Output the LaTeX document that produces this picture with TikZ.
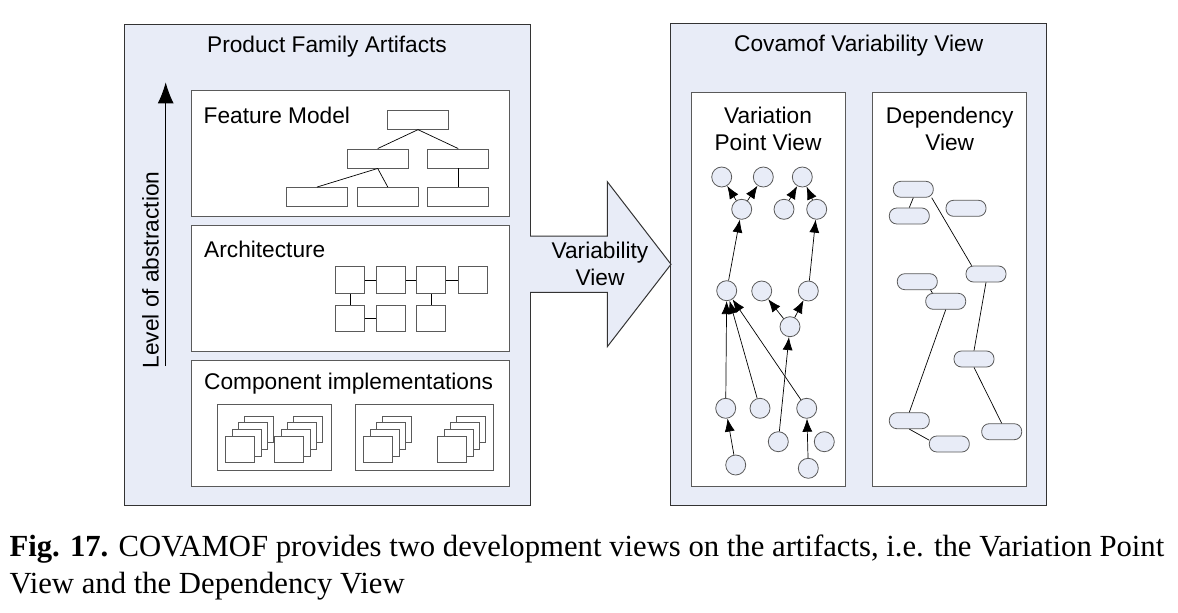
\documentclass[tikz,border=0pt]{standalone}
\usepackage{fontspec}
\setmainfont{Liberation Serif}
\setsansfont{Liberation Sans}
\usetikzlibrary{arrows.meta}
\definecolor{paneblue}{HTML}{E8ECF7}
\definecolor{edgegray}{HTML}{5A5A5A}
\tikzset{
  pane/.style={draw=black!80, fill=paneblue, line width=1pt},
  sheet/.style={draw=edgegray, fill=white, line width=1pt},
  lbl/.style={font=\sffamily\fontsize{22.7}{27}\selectfont, inner sep=0pt},
  feat/.style={draw=edgegray, fill=white, line width=0.9pt, minimum width=61pt, minimum height=19pt, inner sep=0pt},
  comp/.style={draw=edgegray, fill=white, line width=0.9pt, minimum width=29pt, minimum height=26.7pt, inner sep=0pt},
  vp/.style={circle, draw=edgegray, fill=paneblue, line width=0.8pt, minimum size=20pt, inner sep=0pt},
  dep/.style={rectangle, rounded corners=7.5pt, draw=edgegray, fill=paneblue, line width=0.8pt, minimum width=40pt, minimum height=16pt, inner sep=0pt},
  link/.style={line width=0.7pt},
  vparrow/.style={line width=0.7pt, -{Latex[length=13pt,width=10pt]}},
  captext/.style={font=\fontsize{30.7}{37}\selectfont, anchor=base west, inner sep=0pt}
}
\begin{document}
\begin{tikzpicture}[x=1pt,y=-1pt]
\useasboundingbox (0,0) rectangle (1178,613);

% product family side
\draw[pane] (124,24) rectangle (530,505);
\node[lbl] (pfa) at (327,46.5) {Product Family Artifacts};

\coordinate (lowend) at (165.7,366);
\coordinate (highend) at (165.7,82.3);
\draw[line width=1pt, -{Latex[length=21pt,width=16pt]}] (lowend) -- (highend);
\node[lbl, rotate=90] (lvl) at (150.5,270) {Level of abstraction};

% feature model
\draw[sheet] (191.7,90.7) rectangle (509.3,216.5);
\node[lbl, anchor=west] (fmlbl) at (203.5,115) {Feature Model};
\node[feat] (f1) at (418,119.7) {};
\node[feat] (f2) at (377.7,158.5) {};
\node[feat] (f3) at (458.2,158.5) {};
\node[feat] (f4) at (317,197) {};
\node[feat] (f5) at (387.8,197) {};
\node[feat] (f6) at (458.2,197) {};

\path [link] (f1.south) edge (f2.north);
\path [link] (f1.south) edge (f3.north);
\path [link] (f2.south) edge (f4.north);
\path [link] (f2.south) edge (f5.north);
\path [link] (f3.south) edge (f6.north);

% architecture
\draw[sheet] (191.7,225.7) rectangle (509.3,351);
\node[lbl, anchor=west] (arlbl) at (204,249.3) {Architecture};
\node[comp] (r1) at (350,280) {};
\node[comp] (r2) at (390.7,280) {};
\node[comp] (r3) at (431.2,280) {};
\node[comp] (r4) at (472.7,280) {};
\node[comp] (s1) at (350,318.3) {};
\node[comp] (s2) at (390.7,318.3) {};
\node[comp] (s3) at (431.2,318.3) {};

\path [link] (r1) edge (r2);
\path [link] (r2) edge (r3);
\path [link] (r3) edge (r4);
\path [link] (r1) edge (s1);
\path [link] (s1) edge (s2);
\path [link] (r3) edge (s3);

% component implementations
\draw[sheet] (191.7,360.7) rectangle (509.3,486);
\node[lbl, anchor=west] (cilbl) at (204,383.3) {Component implementations};
\draw[sheet] (217.3,404.3) rectangle (331.3,470.7);
\draw[sheet] (355,404.3) rectangle (493,470.7);
\foreach \sx [count=\k] in {225.3,274.3,363.3,437.3} {
  \foreach \i in {3,2,1,0} {
    \node[comp, anchor=south west] (stack\k-\i) at (\sx+6.2*\i, 463.3-6.7*\i) {};
  }
}

% covamof side
\draw[pane] (670.7,23) rectangle (1046.7,505);
\node[lbl] (cvv) at (858.7,45.5) {Covamof Variability View};

\filldraw[fill=paneblue, draw=black!80, line width=1pt] (530,236) -- (607.3,236) -- (607.3,181.7) -- (671,264.3) -- (607.3,346.7) -- (607.3,292.3) -- (530,292.3);
\node[lbl, align=center] (vv) at (600,264) {Variability\\View};

% variation point view
\draw[sheet] (691,92.7) rectangle (845,486);
\node[lbl, align=center] (vplbl) at (768,128.5) {Variation\\Point View};
\node[vp] (a1) at (721.7,177) {};
\node[vp] (a2) at (763.3,177) {};
\node[vp] (a3) at (802.3,177) {};
\node[vp] (b1) at (741.7,209.3) {};
\node[vp] (b2) at (784,209.3) {};
\node[vp] (b3) at (816.7,209.3) {};
\node[vp] (c1) at (726.7,290.7) {};
\node[vp] (c2) at (761.7,291) {};
\node[vp] (c3) at (808.3,291) {};
\node[vp] (d1) at (790,326.7) {};
\node[vp] (e1) at (725.7,408.3) {};
\node[vp] (e2) at (760,408.3) {};
\node[vp] (e3) at (806.7,408.3) {};
\node[vp] (g1) at (778.3,441.7) {};
\node[vp] (g2) at (824.3,441.7) {};
\node[vp] (h1) at (735.7,465) {};
\node[vp] (h2) at (808.3,468.3) {};

\path [vparrow] (b1) edge (a1);
\path [vparrow] (b1) edge (a2);
\path [vparrow] (b2) edge (a3);
\path [vparrow] (b3) edge (a3);
\path [vparrow] (c1) edge (b1);
\path [vparrow] (c3) edge (b3);
\path [vparrow] (d1) edge (c2);
\path [vparrow] (d1) edge (c3);
\path [vparrow] (e1) edge (c1);
\path [vparrow] (e2) edge (c1);
\path [vparrow] (e3) edge (c1);
\path [vparrow] (g1) edge (d1);
\path [vparrow] (h1) edge (e1);
\path [vparrow] (h2) edge (e3);

% dependency view
\draw[sheet] (872.7,92.7) rectangle (1026.7,486);
\node[lbl, align=center] (deplbl) at (949.7,128.5) {Dependency\\View};
\node[dep] (p1) at (913.3,189.3) {};
\node[dep] (p2) at (909.3,216) {};
\node[dep] (p3) at (966,208.3) {};
\node[dep] (p4) at (986,274) {};
\node[dep] (p5) at (917.3,281.7) {};
\node[dep] (p6) at (945.7,301.3) {};
\node[dep] (p7) at (974,359) {};
\node[dep] (p8) at (909.3,420.7) {};
\node[dep] (p9) at (949.3,444) {};
\node[dep] (p10) at (1001.7,431.7) {};

\path [link] (p1.south) edge (p2.north);
\path [link] ([xshift=-2pt]p1.south east) edge ([xshift=6pt]p4.north west);
\path [link] ([xshift=-7pt]p5.south east) edge ([xshift=7pt]p6.north west);
\path [link] (p4.south) edge (p7.north);
\path [link] (p6.south) edge (p8.north);
\path [link] (p8.south) edge ([yshift=4pt]p9.west);
\path [link] (p7.south) edge (p10.north);

% caption
\node[captext] (cap1) at (9.3,556) {\textbf{Fig. 17.} COVAMOF provides two development views on the artifacts, i.e. the Variation Point};
\node[captext] (cap2) at (9.3,593) {View and the Dependency View};
\end{tikzpicture}
\end{document}
